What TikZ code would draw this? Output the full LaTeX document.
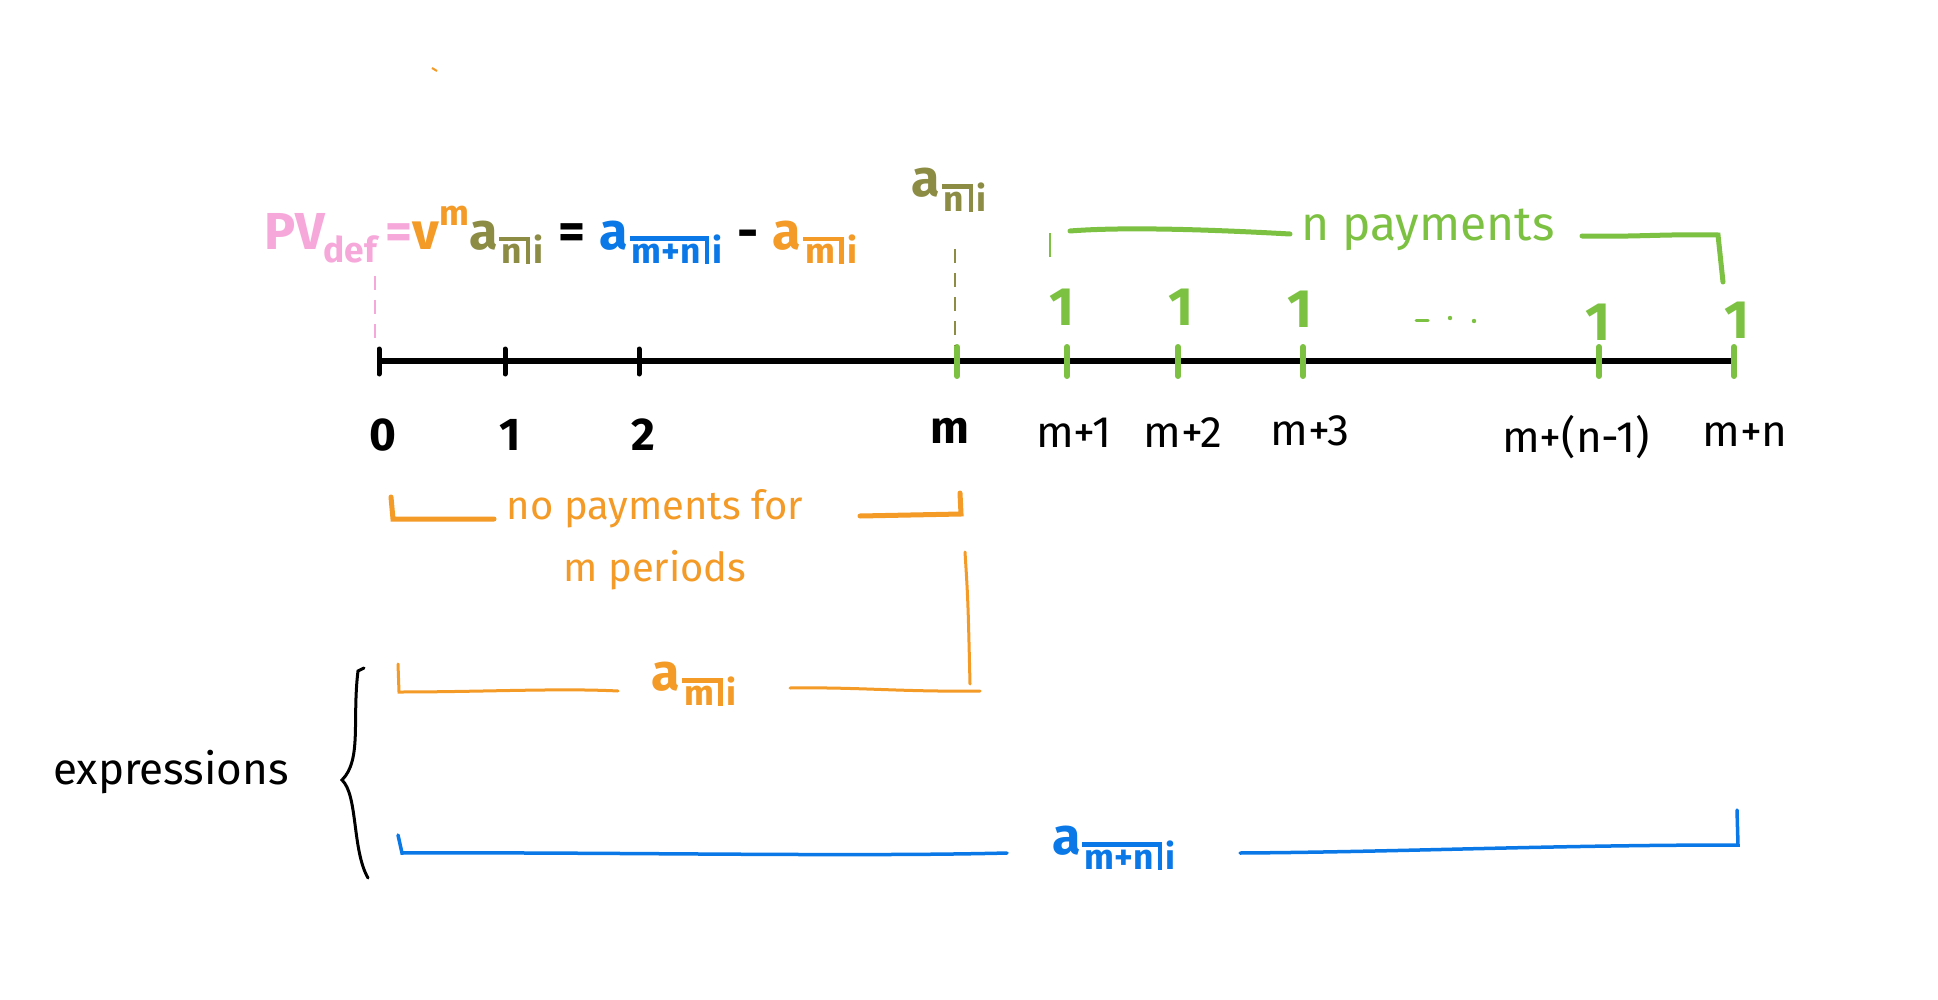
\documentclass[tikz,border=0pt]{standalone}
\usepackage{fontspec}
\setmainfont{Fira Sans}
\definecolor{cPink}{HTML}{F7A8DA}
\definecolor{cOrange}{HTML}{F39A27}
\definecolor{cOlive}{HTML}{8C8C45}
\definecolor{cBlue}{HTML}{0A78E6}
\definecolor{cGreen}{HTML}{7DC142}
\makeatletter
\newcommand\subsz{\fontsize{\fpeval{0.68*\f@size}}{\fpeval{0.7*\f@size}}\selectfont}
\makeatother
\newcommand\annu[2]{a\kern0.03em\raisebox{-0.28em}{\subsz\setbox0=\hbox{\kern0.06em#1\kern0.12em}\dimen0=\ht0 \vbox{\hrule width\wd0 height0.12em\kern0.1em\box0}\vrule width0.12em height\dimexpr\dimen0+0.22em\relax depth0pt\kern0.1em#2}}
\tikzset{
  lbl/.style={font=\fontsize{44}{48}\selectfont, text=black, inner sep=0pt},
  lblb/.style={font=\bfseries\fontsize{46}{50}\selectfont, text=black, inner sep=0pt},
  pay/.style={font=\bfseries\fontsize{54}{58}\selectfont, text=cGreen, inner sep=0pt},
  tickb/.style={line width=5pt, line cap=round, black},
  tickg/.style={line width=6pt, line cap=round, cGreen},
  gbrk/.style={line width=5pt, line cap=round, cGreen},
  obrk/.style={line width=5pt, line cap=round, cOrange},
  othin/.style={line width=3pt, line cap=round, cOrange},
  bbrk/.style={line width=3.5pt, line cap=round, cBlue},
  gtxt/.style={font=\fontsize{48}{52}\selectfont, text=cGreen, inner sep=0pt},
  otxt/.style={font=\fontsize{40}{62}\selectfont, text=cOrange, inner sep=0pt, align=center},
  anno/.style={font=\bfseries\fontsize{52}{56}\selectfont, inner sep=0pt},
  guide/.style={line width=2.5pt, dashed, dash pattern=on 14pt off 10pt},
}
\begin{document}
\begin{tikzpicture}[x=1pt,y=-1pt]
\useasboundingbox (0,0) rectangle (1938,1000);
\fill[white] (0,0) rectangle (1938,1000);

% stray mark
\coordinate (s1) at (432,68); \coordinate (s2) at (437,71);
\draw[cOrange, line width=2pt] (s1) -- (s2);

% formula
\node[anno] (pv) at (561,235) {\textcolor{cPink}{PV\kern-0.02em\raisebox{-0.25em}{\subsz def}\,=}\textcolor{cOrange}{v\raisebox{0.45em}{\subsz m}}\textcolor{cOlive}{\annu{n}{i}}\;=\;\textcolor{cBlue}{\annu{m+n}{i}}\;-\;\textcolor{cOrange}{\annu{m}{i}}};
\node[anno, text=cOlive] (topann) at (949,190) {\annu{n}{i}};

% timeline
\coordinate (t0) at (377,361);
\coordinate (tend) at (1733,361);
\draw[line width=6pt] (t0) -- (tend);

% ticks
\foreach \n/\x in {k0/379,k1/505,k2/639}{
  \coordinate (\n) at (\x,361);
  \draw[tickb] ([yshift=12pt]\n) -- ([yshift=-13pt]\n);
}
\foreach \n/\x in {km/957,km1/1067,km2/1178,km3/1303,kmn1/1599,kmn/1734}{
  \coordinate (\n) at (\x,361);
  \draw[tickg] ([yshift=14pt]\n) -- ([yshift=-15pt]\n);
}

% guide lines
\coordinate (pg1) at (375,276); \coordinate (pg2) at (375,346);
\draw[guide, cPink] (pg1) -- (pg2);
\coordinate (og1) at (955,249); \coordinate (og2) at (955,346);
\draw[guide, cOlive] (og1) -- (og2);

% labels below
\node[lblb] (l0) at (383,435) {0};
\node[lblb] (l1) at (510,435) {1};
\node[lblb] (l2) at (643,435) {2};
\node[lblb] (lm) at (950,431) {m};
\node[lbl] (lm1) at (1074,433) {m+1};
\node[lbl] (lm2) at (1183,433) {m+2};
\node[lbl] (lm3) at (1310,431) {m+3};
\node[lbl] (lmn1) at (1576,437) {m+(n-1)};
\node[lbl] (lmn) at (1745,435) {m+n};

% payments
\node[pay] (p1) at (1062,307) {1};
\node[pay] (p2) at (1181,307) {1};
\node[pay] (p3) at (1300,309) {1};
\node[pay] (p4) at (1598,322) {1};
\node[pay] (p5) at (1737,320) {1};
\coordinate (d0) at (1416,320); \coordinate (d1) at (1428,320);
\draw[cGreen, line width=3pt, line cap=round] (d0) -- (d1);
\coordinate (d2) at (1450,318); \coordinate (d3) at (1474,321);
\fill[cGreen] (d2) circle (2.2pt);
\fill[cGreen] (d3) circle (2.2pt);

% n payments bracket
\node[gtxt] (npay) at (1428,230) {n payments};
\coordinate (g0) at (1050,233); \coordinate (g1) at (1050,257);
\draw[cGreen, line width=2pt] (g0) -- (g1);
\coordinate (g2) at (1070,231); \coordinate (g3) at (1290,234);
\draw[gbrk] (g2) .. controls (1120,227) and (1200,229) .. (g3);
\coordinate (g4) at (1582,236); \coordinate (g5) at (1718,235); \coordinate (g6) at (1723,282);
\draw[gbrk] (g4) .. controls (1640,237) and (1660,234) .. (g5) -- (g6);

% no payments bracket
\node[otxt] (nopay) at (655,540) {no payments for\\m periods};
\coordinate (o0) at (391,497); \coordinate (o1) at (393,519); \coordinate (o2) at (494,519);
\draw[obrk] (o0) -- (o1) -- (o2);
\coordinate (o3) at (860,516); \coordinate (o4) at (961,514); \coordinate (o5) at (960,493);
\draw[obrk] (o3) -- (o4) -- (o5);
\coordinate (o6) at (965,552); \coordinate (o7) at (970,684);
\draw[othin] (o6) .. controls (968,600) .. (o7);

% a_m bracket
\node[anno, text=cOrange] (am) at (694,684) {\annu{m}{i}};
\coordinate (a0) at (398,664); \coordinate (a1) at (399,692); \coordinate (a2) at (618,691);
\draw[othin] (a0) -- (a1) .. controls (480,692) and (560,688) .. (a2);
\coordinate (a3) at (790,688); \coordinate (a4) at (980,691);
\draw[othin] (a3) .. controls (860,687) and (900,692) .. (a4);

% a_{m+n} bracket
\node[anno, text=cBlue] (amn) at (1114,848) {\annu{m+n}{i}};
\coordinate (b0) at (398,835); \coordinate (b1) at (402,853); \coordinate (b2) at (1007,853);
\draw[bbrk] (b0) -- (b1) .. controls (600,852) and (850,857) .. (b2);
\coordinate (b3) at (1240,853); \coordinate (b4) at (1738,845); \coordinate (b5) at (1737,810);
\draw[bbrk] (b3) .. controls (1400,852) and (1550,845) .. (b4) -- (b5);

% expressions brace
\node[lbl, font=\fontsize{44}{48}\selectfont] (expr) at (171,772) {expressions};
\coordinate (e0) at (364,668); \coordinate (e1) at (342,780); \coordinate (e2) at (368,878);
\draw[line width=3pt, line cap=round] (e0) -- (358,671) .. controls (352,720) and (362,760) .. (e1)
  .. controls (358,795) and (352,850) .. (e2);
\end{tikzpicture}
\end{document}
